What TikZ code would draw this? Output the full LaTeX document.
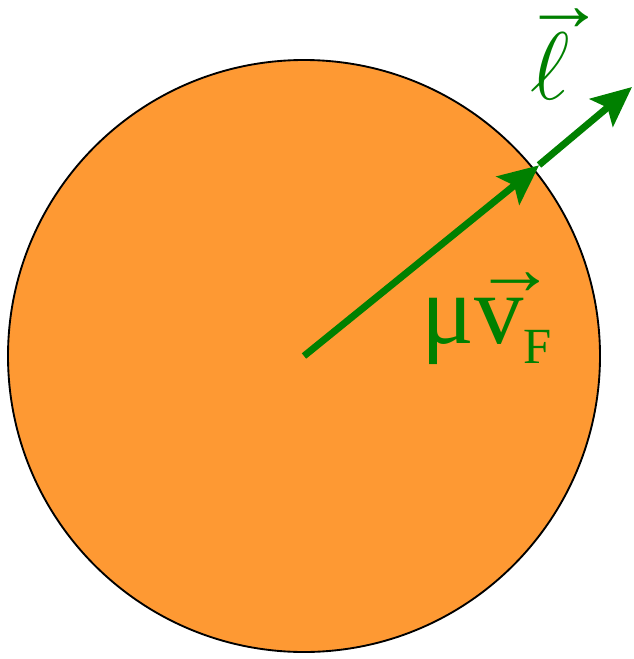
\RequirePackage{fix-cm}
\documentclass[tikz,border=0pt]{standalone}
\usepackage{fontspec}
\setmainfont{Liberation Serif}
\usetikzlibrary{arrows.meta}

\definecolor{ballorange}{RGB}{254,153,51}
\definecolor{vecgreen}{RGB}{0,128,0}

% arrow accent set as a text glyph: #1 kern, #2 raise, #3 letter
\newcommand{\arrowon}[3]{\leavevmode\rlap{\kern#1\raisebox{#2}{\scalebox{1.7}[1.6]{\fontsize{36}{36}\selectfont →}}}#3}

\begin{document}
\begin{tikzpicture}[
  x=0.75pt,y=-0.75pt,
  sphere/.style={draw=black,line width=1.4pt,fill=ballorange},
  vecarrow/.style={vecgreen,line width=5.2pt,-{Stealth[length=30pt,width=27pt,inset=6pt]}},
  veclabel/.style={vecgreen,inner sep=0pt,anchor=base west}
]
  \useasboundingbox (0,0) rectangle (634,659);

  \coordinate (o) at (304,356);
  \coordinate (rim) at (537,167);
  \coordinate (gap) at (539,165);
  \coordinate (tip) at (632,87);

  \draw[sphere] (o) circle[radius=296];

  \draw[vecarrow,shorten >=-2pt] (o) -- (rim);
  \draw[vecarrow] (gap) -- (tip);

  \node[veclabel] (vf) at (421,343)
    {\fontsize{74}{80}\selectfont μ\arrowon{0pt}{36.5pt}{v}\raisebox{-15pt}{\fontsize{38}{40}\selectfont F}};
  \node[veclabel] (ell) at (530,100)
    {\fontsize{72}{80}\selectfont\arrowon{-5pt}{52pt}{$\ell$}};
\end{tikzpicture}
\end{document}
